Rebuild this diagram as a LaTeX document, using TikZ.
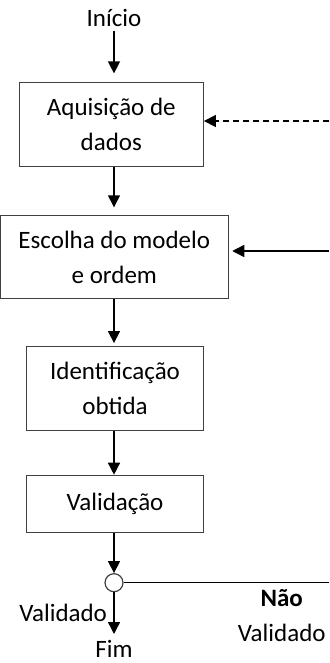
\documentclass[tikz,border=0pt]{standalone}
\usepackage{fontspec}
\setmainfont{Carlito}
\usetikzlibrary{positioning,arrows.meta}

\begin{document}
\begin{tikzpicture}[->,>={Triangle[length=12pt,width=12pt]},line width=1.4pt,
		x=1pt,y=1pt,node distance=47pt,
		every node/.style={font=\fontsize{25}{35}\selectfont},
		main node/.style={rectangle,draw=black!75,line width=1.2pt,align=center,inner sep=0pt},
		dec node/.style={circle,draw=black!75,fill=white,line width=1.2pt,minimum size=18pt,inner sep=0pt}]

		\useasboundingbox (0,0) rectangle (329,-663);

		\node (ini) at (114,-18) {Início};
		\node[main node,minimum width=184pt,minimum height=84pt] (aq) at (111.3,-124.7) {Aquisição de\\dados};
		\node[main node,minimum width=228.7pt,minimum height=83pt] (esc) [below=47.6pt of aq,xshift=3pt] {Escolha do modelo\\e ordem};
		\node[main node,minimum width=176.6pt,minimum height=84pt] (idn) [below=47pt of esc,xshift=0.7pt] {Identificação\\obtida};
		\node[main node,minimum width=176.6pt,minimum height=57.3pt] (val) [below=43.4pt of idn] {Validação};
		\node[dec node] (dec) at (114,-582.7) {};
		\node[anchor=base,inner sep=0pt] (fim) at (114,-657) {Fim};

		\coordinate (dret) at (329,-121);
		\coordinate (sret) at (329,-251);
		\coordinate (nret) at (329,-582.7);
		\coordinate (fimseta) at (114,-634);

		\path
		(ini) edge [shorten >=8.7pt] (ini |- aq.north)
		(aq.south -| ini) edge [shorten >=7.6pt] (ini |- esc.north)
		(esc.south -| ini) edge [shorten >=3pt] (ini |- idn.north)
		(idn.south -| ini) edge (ini |- val.north)
		(val.south -| ini) edge (dec)
		(dret) edge [dash pattern=on 6pt off 4pt] (aq.east |- dret)
		(sret) edge [shorten >=3pt] (esc.east |- sret)
		(dec) edge node [left,xshift=-3pt] {Validado} (fimseta)
		(dec) edge [-] node [pos=0.77,below,align=center,yshift=-3pt] {\textbf{Não}\\Validado} (nret);
	\end{tikzpicture}
\end{document}
